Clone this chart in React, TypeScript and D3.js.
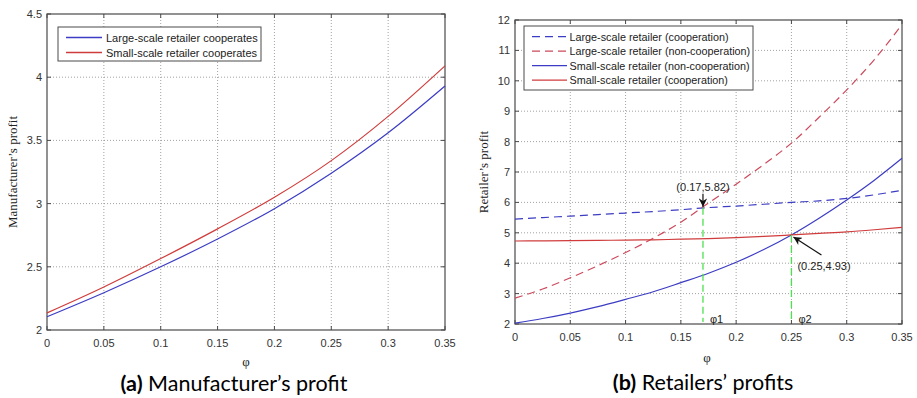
import React from "react";
import * as d3 from "d3";

// ---------- Data: (a) Manufacturer's profit ----------
const phiA = [0, 0.05, 0.1, 0.15, 0.2, 0.25, 0.3, 0.35];
const largeCoopA = [2.105, 2.295, 2.5, 2.72, 2.96, 3.24, 3.56, 3.93];
const smallCoopA = [2.135, 2.34, 2.565, 2.8, 3.05, 3.34, 3.69, 4.09];
const xTicksA = [0, 0.05, 0.1, 0.15, 0.2, 0.25, 0.3, 0.35];
const yTicksA = [2, 2.5, 3, 3.5, 4, 4.5];
const legendA = ["Large-scale retailer cooperates", "Small-scale retailer cooperates"];

// ---------- Data: (b) Retailers' profits ----------
const phiB = [0, 0.025, 0.05, 0.075, 0.1, 0.125, 0.15, 0.175, 0.2, 0.225, 0.25, 0.275, 0.3, 0.325, 0.35];
const largeCoopB = [5.45, 5.5, 5.55, 5.6, 5.65, 5.7, 5.76, 5.83, 5.88, 5.94, 6.0, 6.05, 6.13, 6.25, 6.4];
const largeNonCoopB = [2.85, 3.15, 3.52, 3.92, 4.35, 4.82, 5.35, 5.98, 6.6, 7.25, 7.95, 8.8, 9.7, 10.7, 11.85];
const smallNonCoopB = [2.03, 2.18, 2.36, 2.57, 2.81, 3.06, 3.36, 3.67, 4.03, 4.45, 4.93, 5.48, 6.08, 6.73, 7.45];
const smallCoopB = [4.73, 4.735, 4.74, 4.75, 4.76, 4.77, 4.79, 4.81, 4.84, 4.88, 4.93, 4.98, 5.03, 5.1, 5.18];
const xTicksB = [0, 0.05, 0.1, 0.15, 0.2, 0.25, 0.3, 0.35];
const yTicksB = [2, 3, 4, 5, 6, 7, 8, 9, 10, 11, 12];
const legendB = [
  "Large-scale retailer (cooperation)",
  "Large-scale retailer (non-cooperation)",
  "Small-scale retailer (non-cooperation)",
  "Small-scale retailer (cooperation)",
];
const points = [
  { x: 0.17, y: 5.82, label: "(0.17,5.82)", name: "φ1" },
  { x: 0.25, y: 4.93, label: "(0.25,4.93)", name: "φ2" },
];

const BLUE = "#3c3cc4";
const RED = "#d03c3c";
const RED_D = "#cc4a5c";
const GREEN = "#4ee04e";
const FRAME = "#4a4a4a";
const TICKC = "#333";
const SANS = "'Liberation Sans', Arial, sans-serif";
const SERIF = "'Liberation Serif', 'Times New Roman', serif";
const CAPF = "Lato, 'Open Sans', sans-serif";

type Frame = { x0: number; x1: number; y0: number; y1: number };

function Axes({ f, xs, ys, xt, yt, fmtY }: any) {
  const { x0, x1, y0, y1 } = f as Frame;
  const tl = 4;
  return (
    <g>
      {xt.map((t: number, i: number) => (
        <g key={"gx" + i}>
          {i > 0 && i < xt.length - 1 && (
            <line x1={xs(t)} x2={xs(t)} y1={y0} y2={y1} stroke="#8a8a8a" strokeWidth={0.8} strokeDasharray="1,2" />
          )}
          <line x1={xs(t)} x2={xs(t)} y1={y1} y2={y1 - tl} stroke={FRAME} strokeWidth={1} />
          <line x1={xs(t)} x2={xs(t)} y1={y0} y2={y0 + tl} stroke={FRAME} strokeWidth={1} />
          <text x={xs(t)} y={y1 + 17} textAnchor="middle" fontFamily={SANS} fontSize={11} fill={TICKC}>
            {String(t)}
          </text>
        </g>
      ))}
      {yt.map((t: number, i: number) => (
        <g key={"gy" + i}>
          {i > 0 && i < yt.length - 1 && (
            <line x1={x0} x2={x1} y1={ys(t)} y2={ys(t)} stroke="#8a8a8a" strokeWidth={0.8} strokeDasharray="1,2" />
          )}
          <line x1={x0} x2={x0 + tl} y1={ys(t)} y2={ys(t)} stroke={FRAME} strokeWidth={1} />
          <line x1={x1} x2={x1 - tl} y1={ys(t)} y2={ys(t)} stroke={FRAME} strokeWidth={1} />
          <text x={x0 - 5} y={ys(t) + 4} textAnchor="end" fontFamily={SANS} fontSize={11} fill={TICKC}>
            {fmtY(t)}
          </text>
        </g>
      ))}
      <rect x={x0} y={y0} width={x1 - x0} height={y1 - y0} fill="none" stroke={FRAME} strokeWidth={1.2} />
    </g>
  );
}

export default function App() {
  // Panel (a)
  const fA: Frame = { x0: 47, x1: 445, y0: 14, y1: 330 };
  const xA = d3.scaleLinear().domain([0, 0.35]).range([fA.x0, fA.x1]);
  const yA = d3.scaleLinear().domain([2, 4.5]).range([fA.y1, fA.y0]);
  const lineA = (vals: number[]) =>
    d3.line<number>().x((_, i) => xA(phiA[i])).y((d) => yA(d)).curve(d3.curveMonotoneX)(vals) || "";

  // Panel (b)
  const fB: Frame = { x0: 515, x1: 902, y0: 20, y1: 324 };
  const xB = d3.scaleLinear().domain([0, 0.35]).range([fB.x0, fB.x1]);
  const yB = d3.scaleLinear().domain([2, 12]).range([fB.y1, fB.y0]);
  const lineB = (vals: number[]) =>
    d3.line<number>().x((_, i) => xB(phiB[i])).y((d) => yB(d)).curve(d3.curveMonotoneX)(vals) || "";

  const seriesB = [
    { v: largeCoopB, c: BLUE, dash: "8,5" },
    { v: largeNonCoopB, c: RED_D, dash: "8,5" },
    { v: smallNonCoopB, c: BLUE, dash: "" },
    { v: smallCoopB, c: RED, dash: "" },
  ];

  return (
    <svg width={917} height={398} style={{ position: "absolute", left: 0, top: 0, background: "#fff" }}>
      <rect width={917} height={398} fill="#fff" />
      {/* ===== Panel a ===== */}
      <Axes f={fA} xs={xA} ys={yA} xt={xTicksA} yt={yTicksA} fmtY={(t: number) => String(t)} />
      <path d={lineA(largeCoopA)} fill="none" stroke={BLUE} strokeWidth={1.2} />
      <path d={lineA(smallCoopA)} fill="none" stroke={RED} strokeWidth={1.2} />
      <g>
        <rect x={58} y={27} width={203} height={34} fill="#fff" stroke={FRAME} strokeWidth={1} />
        {legendA.map((s, i) => (
          <g key={s}>
            <line x1={66} x2={102} y1={37.5 + i * 15} y2={37.5 + i * 15} stroke={i === 0 ? BLUE : RED} strokeWidth={1.3} />
            <text x={106} y={41.5 + i * 15} fontFamily={SANS} fontSize={11} fill="#222">
              {s}
            </text>
          </g>
        ))}
      </g>
      <text x={246} y={366} textAnchor="middle" fontFamily={SERIF} fontSize={13} fill="#222">φ</text>
      <text
        transform={`translate(17,${(fA.y0 + fA.y1) / 2}) rotate(-90)`}
        textAnchor="middle"
        fontFamily={SERIF}
        fontSize={13}
        fill="#222"
      >
        Manufacturer’s profit
      </text>
      <text x={234} y={391} textAnchor="middle" fontFamily={CAPF} fontSize={21.5} fill="#000">
        <tspan fontWeight="bold">(a)</tspan> Manufacturer’s profit
      </text>

      {/* ===== Panel b ===== */}
      <Axes f={fB} xs={xB} ys={yB} xt={xTicksB} yt={yTicksB} fmtY={(t: number) => String(t)} />
      {seriesB.map((s, i) => (
        <path key={i} d={lineB(s.v)} fill="none" stroke={s.c} strokeWidth={1.2} strokeDasharray={s.dash || undefined} />
      ))}
      {points.map((p) => (
        <g key={p.name}>
          <line x1={xB(p.x)} x2={xB(p.x)} y1={yB(p.y)} y2={fB.y1 - 2} stroke={GREEN} strokeWidth={1.3} strokeDasharray="7,4" />
          <text x={xB(p.x) + 7} y={fB.y1 - 1} fontFamily={SANS} fontSize={11} fill="#222">
            {p.name}
          </text>
        </g>
      ))}
      <defs>
        <marker id="arr" viewBox="0 0 10 10" refX={10} refY={5} markerWidth={7} markerHeight={7} orient="auto">
          <path d="M0,0 L10,5 L0,10 L3,5 z" fill="#111" />
        </marker>
      </defs>
      {/* annotation 1 */}
      <text x={xB(0.17)} y={yB(5.82) - 17} textAnchor="middle" fontFamily={SANS} fontSize={11} fill="#222">
        {points[0].label}
      </text>
      <line x1={xB(0.17)} x2={xB(0.17)} y1={yB(5.82) - 14} y2={yB(5.82) - 1} stroke="#111" strokeWidth={1.2} markerEnd="url(#arr)" />
      {/* annotation 2 */}
      <line x1={xB(0.25) + 30} x2={xB(0.25) + 2} y1={yB(4.93) + 20} y2={yB(4.93) + 2} stroke="#111" strokeWidth={1.2} markerEnd="url(#arr)" />
      <text x={xB(0.25) + 6} y={yB(4.93) + 35} fontFamily={SANS} fontSize={11} fill="#222">
        {points[1].label}
      </text>
      <g>
        <rect x={524} y={26} width={229} height={64} fill="#fff" stroke={FRAME} strokeWidth={1} />
        {legendB.map((s, i) => (
          <g key={s}>
            <line
              x1={532}
              x2={567}
              y1={36.7 + i * 14.5}
              y2={36.7 + i * 14.5}
              stroke={seriesB[i].c}
              strokeWidth={1.3}
              strokeDasharray={seriesB[i].dash || undefined}
            />
            <text x={569.5} y={40.7 + i * 14.5} fontFamily={SANS} fontSize={10.8} fill="#222">
              {s}
            </text>
          </g>
        ))}
      </g>
      <text x={707} y={362} textAnchor="middle" fontFamily={SERIF} fontSize={13} fill="#222">φ</text>
      <text
        transform={`translate(488,${(fB.y0 + fB.y1) / 2}) rotate(-90)`}
        textAnchor="middle"
        fontFamily={SERIF}
        fontSize={13}
        fill="#222"
      >
        Retailer’s profit
      </text>
      <text x={703} y={390} textAnchor="middle" fontFamily={CAPF} fontSize={21.5} fill="#000">
        <tspan fontWeight="bold">(b)</tspan> Retailers’ profits
      </text>
    </svg>
  );
}
